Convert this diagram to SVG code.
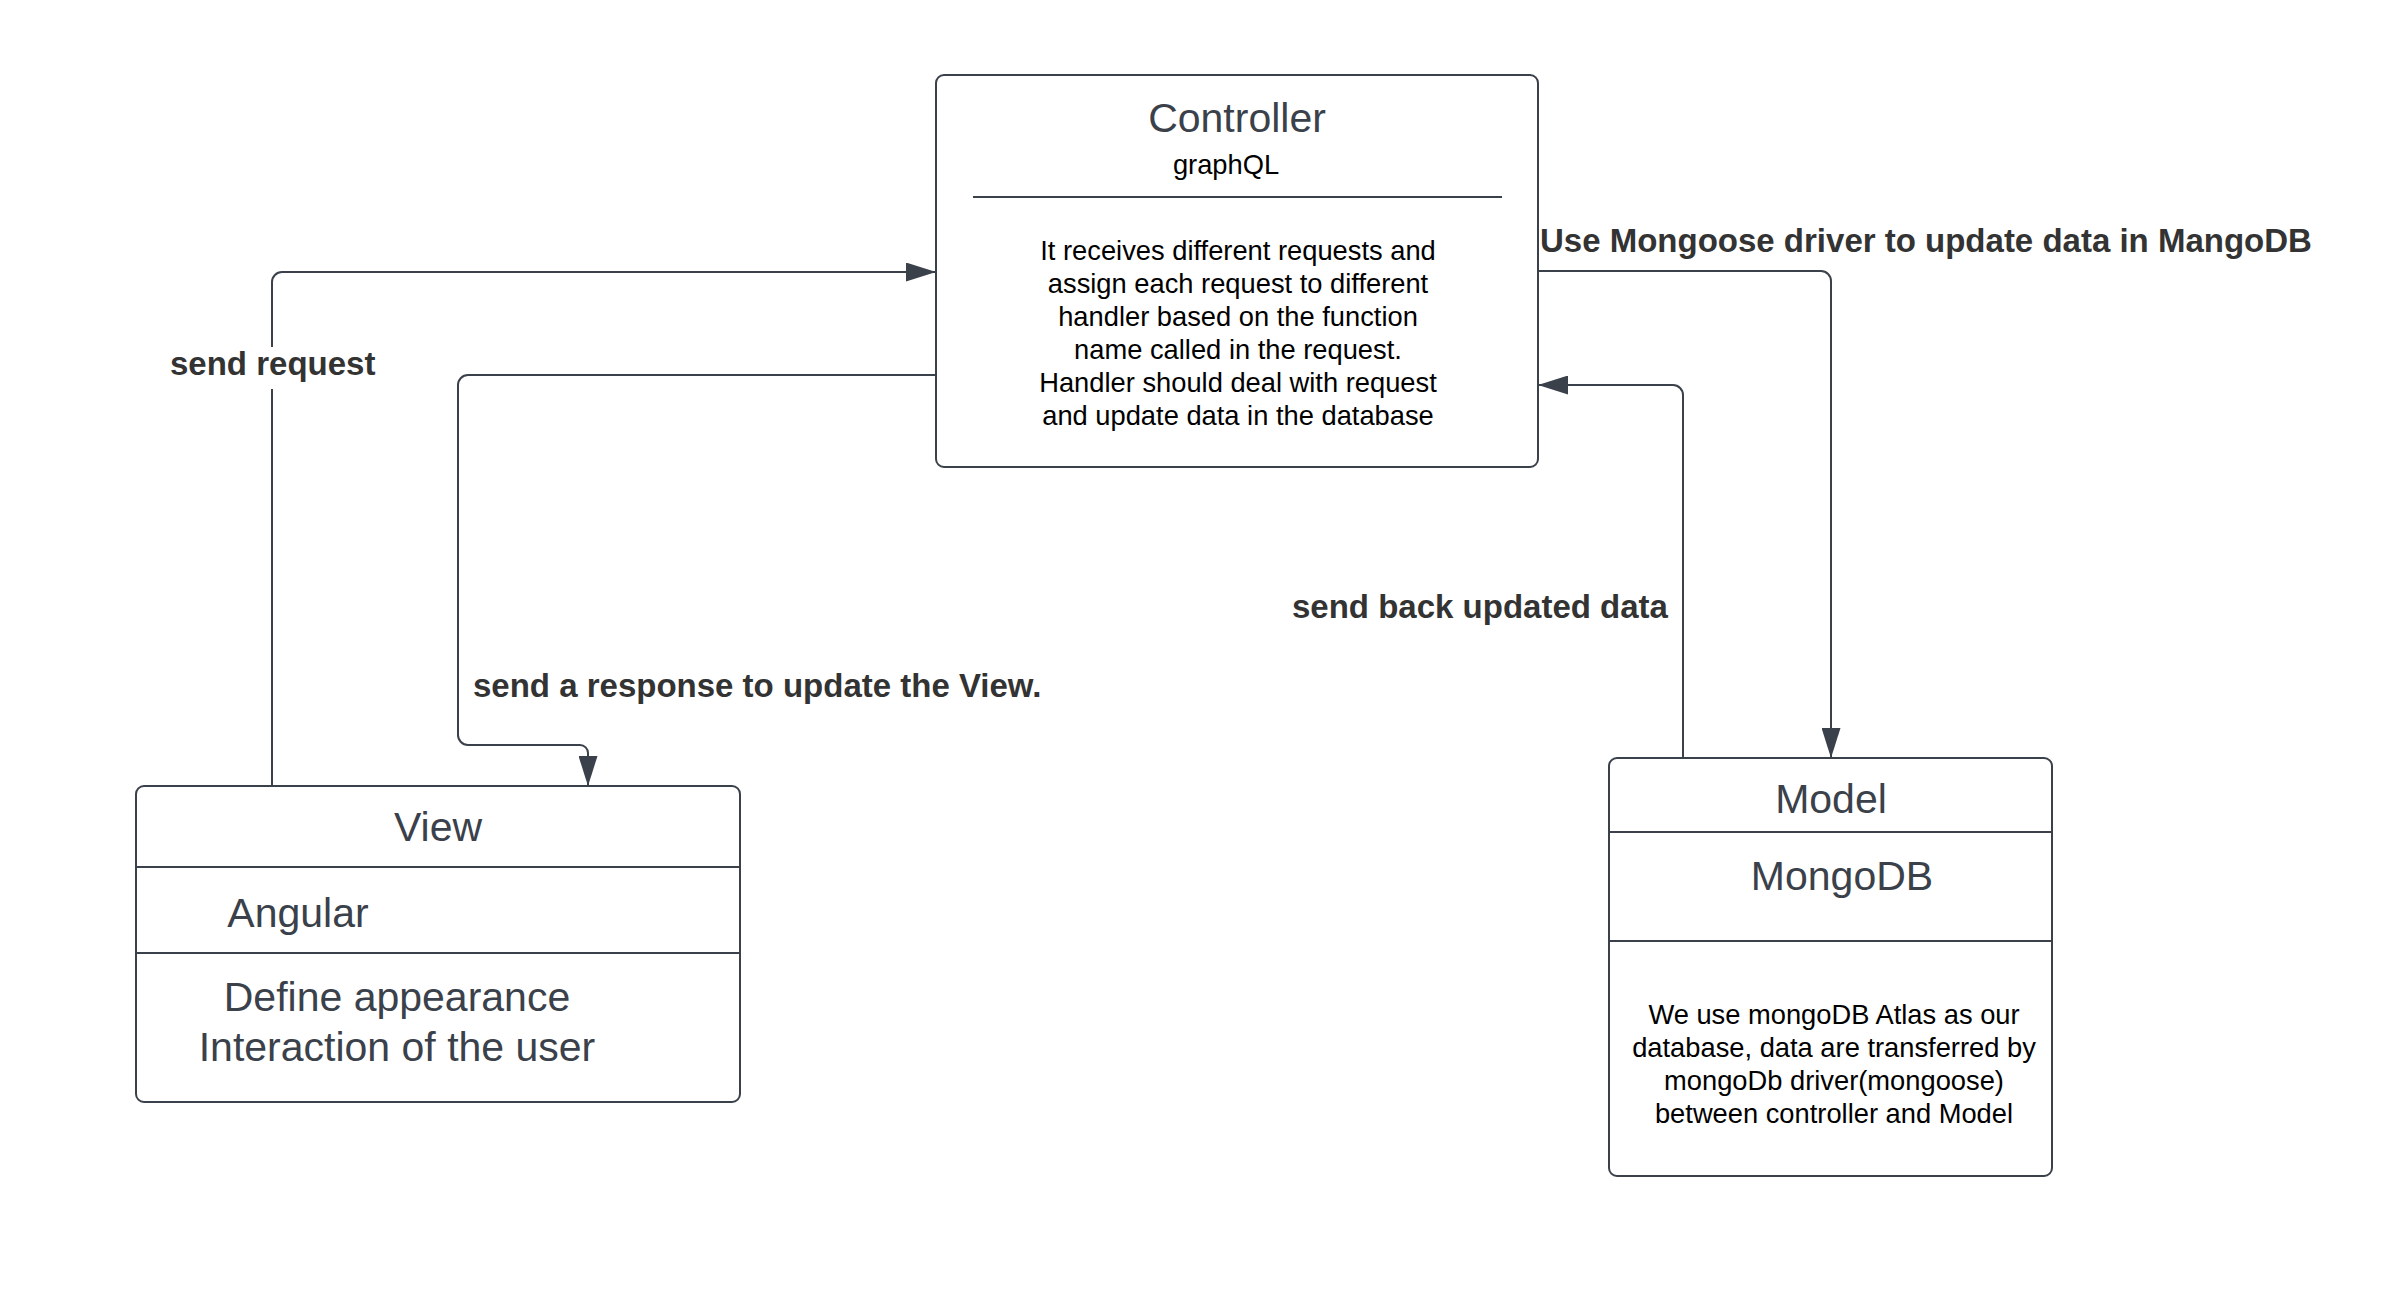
<svg xmlns="http://www.w3.org/2000/svg" width="2393" height="1298" viewBox="0 0 2393 1298">
  <defs>
    <style>
      .box { fill: #ffffff; stroke: #3a414a; stroke-width: 2; }
      .div { stroke: #3a414a; stroke-width: 2; fill: none; }
      .title { font-family: "Liberation Sans", Arial, sans-serif; font-size: 41px; fill: #3a414a; text-anchor: middle; }
      .body { font-family: "Liberation Sans", Arial, sans-serif; font-size: 27.3px; fill: #000000; text-anchor: middle; }
      .lbl { font-family: "Liberation Sans", Arial, sans-serif; font-size: 33px; font-weight: bold; fill: #333333; }
      .conn { fill: none; stroke: #3a414a; stroke-width: 2; }
    </style>
    <marker id="arrow" markerUnits="userSpaceOnUse" markerWidth="30" markerHeight="19" refX="30" refY="9.5" orient="auto">
      <path d="M0,0 L30,9.5 L0,19 Z" fill="#3a414a"/>
    </marker>
  </defs>
  <rect width="2393" height="1298" fill="#ffffff"/>

  <g id="connectors">
    <path class="conn" d="M272,786 V282 A10,10 0 0 1 282,272 H936" marker-end="url(#arrow)"/>
    <path class="conn" d="M936,375 H468 A10,10 0 0 0 458,385 V735 A10,10 0 0 0 468,745 H580 A8,8 0 0 1 588,753 V786" marker-end="url(#arrow)"/>
    <path class="conn" d="M1538,271 H1821 A10,10 0 0 1 1831,281 V758" marker-end="url(#arrow)"/>
    <path class="conn" d="M1683,758 V395 A10,10 0 0 0 1673,385 H1538" marker-end="url(#arrow)"/>
    <rect x="166" y="347" width="210" height="42" fill="#ffffff"/>
    <text class="lbl" x="170" y="375">send request</text>
    <text class="lbl" x="473" y="697">send a response to update the View.</text>
    <text class="lbl" x="1540" y="252">Use Mongoose driver to update data in MangoDB</text>
    <text class="lbl" x="1292" y="618">send back updated data</text>
  </g>

  <g id="controller">
    <rect class="box" x="936" y="75" width="602" height="392" rx="8"/>
    <text class="title" x="1237" y="132">Controller</text>
    <text class="body" x="1226" y="174">graphQL</text>
    <line class="div" x1="973" y1="197" x2="1502" y2="197"/>
    <text class="body" x="1238" y="260">It receives different requests and</text>
    <text class="body" x="1238" y="293">assign each request to different</text>
    <text class="body" x="1238" y="326">handler based on the function</text>
    <text class="body" x="1238" y="359">name called in the request.</text>
    <text class="body" x="1238" y="392">Handler should deal with request</text>
    <text class="body" x="1238" y="425">and update data in the database</text>
  </g>

  <g id="view">
    <rect class="box" x="136" y="786" width="604" height="316" rx="8"/>
    <text class="title" x="438" y="841">View</text>
    <line class="div" x1="136" y1="867" x2="740" y2="867"/>
    <text class="title" x="298" y="927">Angular</text>
    <line class="div" x1="136" y1="953" x2="740" y2="953"/>
    <text class="title" x="397" y="1011">Define appearance</text>
    <text class="title" x="397" y="1061">Interaction of the user</text>
  </g>

  <g id="model">
    <rect class="box" x="1609" y="758" width="443" height="418" rx="8"/>
    <text class="title" x="1831" y="813">Model</text>
    <line class="div" x1="1609" y1="832" x2="2052" y2="832"/>
    <text class="title" x="1842" y="890">MongoDB</text>
    <line class="div" x1="1609" y1="941" x2="2052" y2="941"/>
    <text class="body" x="1834" y="1024">We use mongoDB Atlas as our</text>
    <text class="body" x="1834" y="1057">database, data are transferred by</text>
    <text class="body" x="1834" y="1090">mongoDb driver(mongoose)</text>
    <text class="body" x="1834" y="1123">between controller and Model</text>
  </g>
</svg>
